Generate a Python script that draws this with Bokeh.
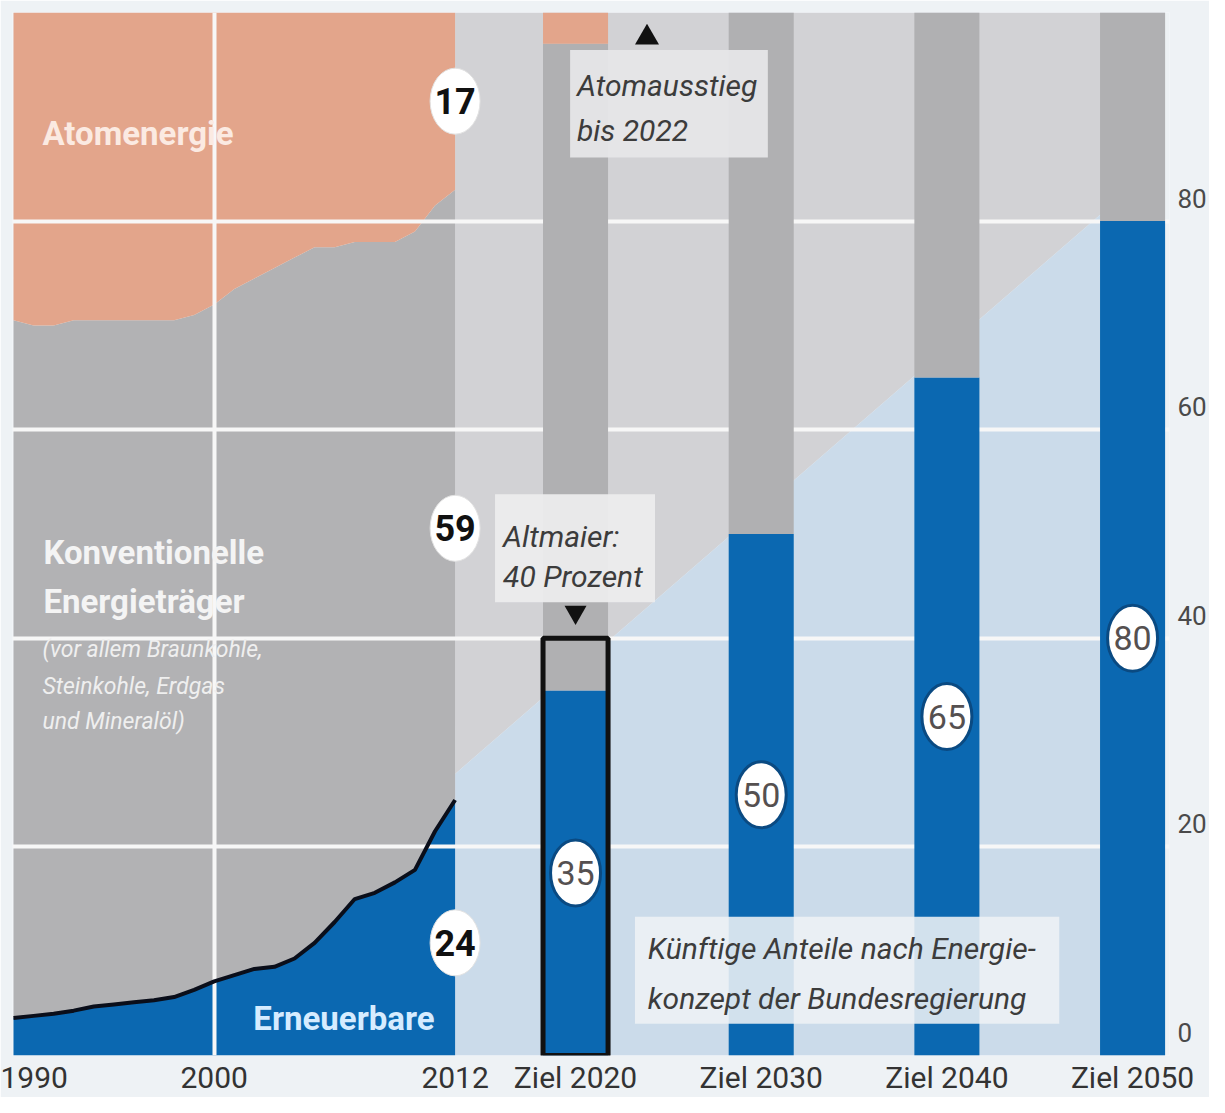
from bokeh.plotting import figure
from bokeh.models import FixedTicker, Range1d
from bokeh.core.properties import value
from bokeh.embed import file_html
from bokeh.resources import INLINE

# ---------------- data ----------------
years = list(range(1990, 2013))
erneuerbare = [3.6, 3.8, 4.0, 4.3, 4.7, 4.9, 5.1, 5.3, 5.6, 6.3, 7.1, 7.7,
               8.3, 8.5, 9.3, 10.8, 12.8, 15.0, 15.6, 16.6, 17.8, 21.5, 24.5]
atomenergie = [29.5, 30.0, 30.0, 29.5, 29.5, 29.5, 29.5, 29.5, 29.5, 29.0, 28.0, 26.5,
               25.5, 24.5, 23.5, 22.5, 22.5, 22.0, 22.0, 22.0, 21.0, 18.5, 17.0]
werte_2012 = [24, 59, 17]          # Erneuerbare, Konventionelle, Atomenergie

ziel_labels = ["Ziel 2020", "Ziel 2030", "Ziel 2040", "Ziel 2050"]
ziel_erneuerbare = [35, 50, 65, 80]
ziel_atom = [3, 0, 0, 0]
altmaier_ziel = 40

x_tick_years = [1990, 2000, 2012]
y_ticks = [0, 20, 40, 60, 80]
y_grid = [20, 40, 60, 80]
trend_start, trend_end = 27, 86   # decorative diagonal (start 2012 / end 2050)

# ---------------- style ----------------
FONT = "Roboto"
BG = "#eef2f5"
BLUE = "#0b68b1"
GRAY = "#b2b2b4"
BARGRAY = "#b0b0b2"
SALMON = "#e3a58b"
LIGHTGRAY = "#d2d2d5"
LIGHTBLUE = "#cbdbea"

# layout of target bars (in year-like x units)
ziel_x = [2018 + 9.25 * i for i in range(len(ziel_labels))]
bar_w = 3.24
right_edge = ziel_x[-1] + bar_w / 2
y_label_shift = 2.2

p = figure(width=1209, height=1097,
           x_range=Range1d(1989.95, 2047.59), y_range=Range1d(0, 100),
           output_backend="svg", toolbar_location=None, y_axis_location="right",
           min_border_left=12, min_border_top=12, min_border_right=39, min_border_bottom=40,
           background_fill_color=BG, border_fill_color=BG, outline_line_color=None)

# ---- background wedge for the future region ----
x0 = years[-1]
p.patch([x0, right_edge, right_edge, x0], [trend_start, trend_end, 100, 100],
        fill_color=LIGHTGRAY, line_color=None, level="image")
p.patch([x0, right_edge, right_edge, x0], [0, 0, trend_end, trend_start],
        fill_color=LIGHTBLUE, line_color=None, level="image")

# ---- historical stacked areas ----
top_conv = [100 - a for a in atomenergie]
p.varea(x=years, y1=[0] * len(years), y2=erneuerbare, fill_color=BLUE, level="image")
p.varea(x=years, y1=erneuerbare, y2=top_conv, fill_color=GRAY, level="image")
p.varea(x=years, y1=top_conv, y2=[100] * len(years), fill_color=SALMON, level="image")

# ---- grid ----
p.ygrid.ticker = FixedTicker(ticks=y_grid)
p.xgrid.ticker = FixedTicker(ticks=[2000])
for g in (p.xgrid, p.ygrid):
    g.grid_line_color = "#f7f7f7"
    g.grid_line_width = 4
    g.level = "underlay"

# ---- line on renewables ----
p.line(years, erneuerbare, line_color="#0a0e1a", line_width=4)

# ---- target bars ----
conv_top = [100 - a for a in ziel_atom]
p.vbar(x=ziel_x, width=bar_w, bottom=0, top=ziel_erneuerbare, fill_color=BLUE, line_color=None)
p.vbar(x=ziel_x, width=bar_w, bottom=ziel_erneuerbare, top=conv_top, fill_color=BARGRAY, line_color=None)
p.vbar(x=ziel_x, width=bar_w, bottom=conv_top, top=[100] * 4, fill_color=SALMON, line_color=None)
# Altmaier outline on the 2020 bar
p.vbar(x=[ziel_x[0]], width=bar_w, bottom=0, top=altmaier_ziel, fill_color=None,
       line_color="#111111", line_width=5)

# ---- annotation boxes ----
p.quad(left=[2017.73], right=[2027.58], bottom=[86.1], top=[96.4], fill_color="#e6e6e8",
       fill_alpha=0.95, line_color=None)
p.quad(left=[2013.99], right=[2021.96], bottom=[43.45], top=[53.8], fill_color="#ececed",
       fill_alpha=0.95, line_color=None)
p.quad(left=[2020.96], right=[2042.1], bottom=[3.05], top=[13.3], fill_color="#eef1f5",
       fill_alpha=0.88, line_color=None)

p.scatter([2021.56], [97.6], marker="triangle", size=24, fill_color="#111111", line_color=None)
p.scatter([ziel_x[0]], [altmaier_ziel + 2.5], marker="inverted_triangle", size=22,
          fill_color="#111111", line_color=None)

anno = dict(text_font=value(FONT), text_font_style="italic", text_color="#3c3c3c",
            text_align="left", text_baseline="middle", text_font_size="30px")
p.text(x=[2018.07, 2018.07], y=[93.0, 88.7], text=["Atomausstieg", "bis 2022"], **anno)
p.text(x=[2014.39, 2014.39], y=[49.8, 45.9], text=["Altmaier:", "40 Prozent"], **anno)
p.text(x=[2021.6, 2021.6], y=[10.25, 5.45],
       text=["Künftige Anteile nach Energie-", "konzept der Bundesregierung"], **anno)

# ---- area labels ----
p.text(x=[1991.44], y=[88.4], text=["Atomenergie"], text_font=value(FONT),
       text_font_style="bold", text_font_size="33px", text_color="#fbeae2",
       text_align="left", text_baseline="middle")
p.text(x=[1991.49, 1991.49], y=[48.2, 43.5], text=["Konventionelle", "Energieträger"],
       text_font=value(FONT), text_font_style="bold", text_font_size="33px",
       text_color="#f4f4f4", text_align="left", text_baseline="middle")
p.text(x=[1991.44] * 3, y=[38.9, 35.4, 32.0],
       text=["(vor allem Braunkohle,", "Steinkohle, Erdgas", "und Mineralöl)"],
       text_font=value(FONT), text_font_style="italic", text_font_size="23px",
       text_color="#efefef", text_align="left", text_baseline="middle")
p.text(x=[2001.95], y=[3.5], text=["Erneuerbare"], text_font=value(FONT),
       text_font_style="bold", text_font_size="33px", text_color="#d6ecff",
       text_align="left", text_baseline="middle")

# ---- value ellipses 2012 ----
ern12, konv12, atom12 = werte_2012
lab_y = [ern12 * 0.45, ern12 + konv12 * 0.45, 100 - atom12 / 2]
p.ellipse(x=[x0] * 3, y=lab_y, width=50, height=66, width_units="screen",
          height_units="screen", fill_color="white", line_color="#e2e2e2", line_width=1)
p.text(x=[x0] * 3, y=lab_y, text=[str(v) for v in werte_2012], text_font=value(FONT),
       text_font_style="bold", text_font_size="36px", text_color="#111111",
       text_align="center", text_baseline="middle")

# ---- value ellipses in bars ----
bar_lab_y = [v / 2 for v in ziel_erneuerbare]
p.ellipse(x=ziel_x, y=bar_lab_y, width=50, height=66, width_units="screen",
          height_units="screen", fill_color="white", line_color="#0a4a82", line_width=3)
p.text(x=ziel_x, y=bar_lab_y, text=[str(v) for v in ziel_erneuerbare], text_font=value(FONT),
       text_font_size="34px", text_color="#555050", text_align="center",
       text_baseline="middle")

# ---- axes ----
xt = x_tick_years + ziel_x
p.xaxis.ticker = FixedTicker(ticks=xt)
overrides = {t: str(t) for t in x_tick_years}
overrides.update({x: l for x, l in zip(ziel_x, ziel_labels)})
p.xaxis.major_label_overrides = overrides

yt = [v + y_label_shift for v in y_ticks]
p.yaxis.ticker = FixedTicker(ticks=yt)
p.yaxis.major_label_overrides = {t: str(v) for t, v in zip(yt, y_ticks)}

for ax in (p.xaxis, p.yaxis):
    ax.axis_line_color = None
    ax.major_tick_line_color = None
    ax.minor_tick_line_color = None
    ax.major_tick_out = 0
    ax.major_tick_in = 0
    ax.major_label_text_font = FONT
    ax.major_label_text_color = "#333333"
p.xaxis.major_label_text_font_size = "30px"
p.xaxis.major_label_standoff = 4
p.yaxis.major_label_text_font_size = "26px"
p.yaxis.major_label_standoff = 8
p.yaxis.major_label_text_color = "#4a4a4a"

open("out.html", "w").write(file_html(p, INLINE))
